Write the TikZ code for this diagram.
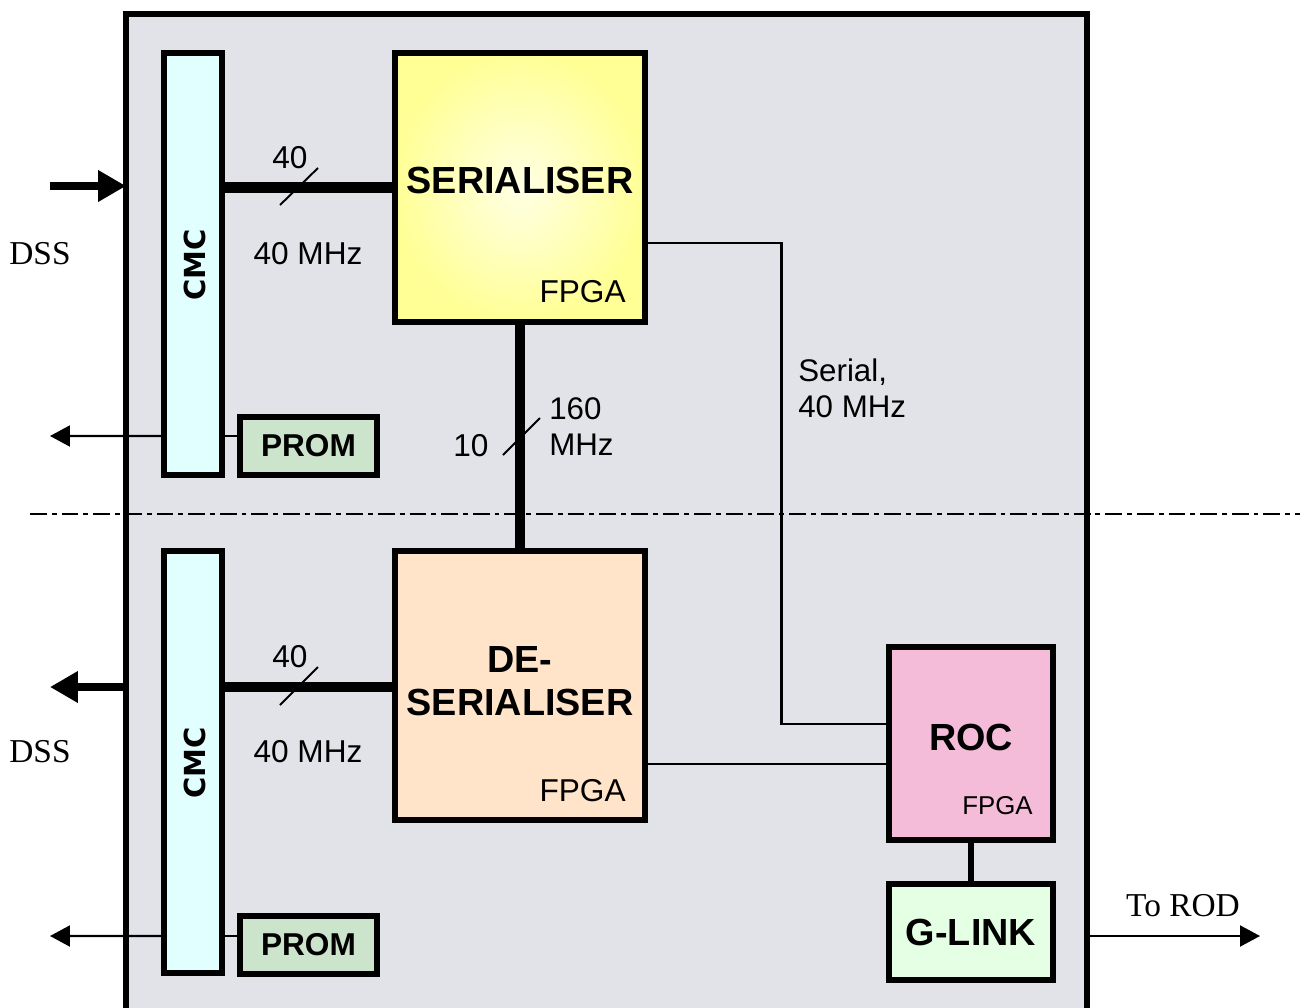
\documentclass[tikz,border=0pt]{standalone}
\usepackage{fontspec}
\setmainfont{Liberation Sans}
\newfontfamily\serifft{Liberation Serif}
\newfontfamily\heavyft{DejaVu Sans}
\usetikzlibrary{arrows.meta,calc}
\definecolor{bgfill}{RGB}{226,226,233}
\definecolor{cmcfill}{RGB}{226,255,255}
\definecolor{promfill}{RGB}{204,228,204}
\definecolor{serout}{RGB}{255,255,150}
\definecolor{serin}{RGB}{255,255,228}
\definecolor{desfill}{RGB}{255,228,202}
\definecolor{rocfill}{RGB}{244,188,216}
\definecolor{glfill}{RGB}{228,255,228}
\begin{document}
\begin{tikzpicture}[x=0.02cm,y=-0.02cm,
  box/.style={draw,line width=3.2pt,inner sep=0pt},
  bus/.style={line width=5.8pt},
  wire/.style={line width=1.6pt},
  slash/.style={line width=1.1pt},
  thinarr/.style={line width=1.2pt,-{Triangle[length=0.4cm,width=0.42cm]}},
  thickarr/.style={line width=4.3pt,-{Triangle[length=0.56cm,width=0.6cm]}},
  lbl/.style={inner sep=0pt,font=\fontsize{18pt}{21pt}\selectfont},
  bigb/.style={inner sep=0pt,align=center,font=\fontsize{21.5pt}{24.4pt}\selectfont\bfseries},
  sertxt/.style={inner sep=0pt,font=\serifft\fontsize{19pt}{22pt}\selectfont}]
\useasboundingbox (0,0) rectangle (1306,1008);
% outer board
\fill[bgfill] (126,14) rectangle (1087,1020);
\draw[line width=3.2pt] (126,1020) -- (126,14) -- (1087,14) -- (1087,1020);
% dash-dot separator
\draw[line width=1.2pt,dash pattern=on 9.6pt off 2.8pt on 2.8pt off 2.8pt] (30,514) -- (1300,514);
% boxes
\node[box,shading=radial,inner color=serin,outer color=serout,minimum width=5cm,minimum height=5.38cm] (ser) at (520,187.5) {};
\node[box,fill=desfill,minimum width=5cm,minimum height=5.38cm] (des) at (520,685.5) {};
\node[box,fill=cmcfill,minimum width=1.16cm,minimum height=8.44cm] (cmc1) at (193,264) {};
\node[box,fill=cmcfill,minimum width=1.16cm,minimum height=8.44cm] (cmc2) at (193,762) {};
\node[box,fill=promfill,minimum width=2.74cm,minimum height=1.16cm,font=\fontsize{18pt}{21pt}\selectfont\bfseries] (prom1) at (308.5,446) {PROM};
\node[box,fill=promfill,minimum width=2.74cm,minimum height=1.16cm,font=\fontsize{18pt}{21pt}\selectfont\bfseries] (prom2) at (308.5,945) {PROM};
\node[box,fill=rocfill,minimum width=3.28cm,minimum height=3.86cm] (roc) at (971,743.5) {};
\node[box,fill=glfill,minimum width=3.28cm,minimum height=1.92cm,font=\fontsize{21.5pt}{24pt}\selectfont\bfseries] (gl) at (971,932) {G-LINK};
% box texts
\node[bigb] at (520,180) {SERIALISER};
\node[lbl,anchor=east] at (626,292) {FPGA};
\node[bigb] at (520,681) {DE-\\SERIALISER};
\node[lbl,anchor=east] at (626,791) {FPGA};
\node[bigb] at (971,737) {ROC};
\node[inner sep=0pt,anchor=east,font=\fontsize{14.7pt}{17pt}\selectfont] at (1033,806) {FPGA};
\node[inner sep=0pt,rotate=90,font=\heavyft\fontsize{16.5pt}{19pt}\selectfont\bfseries] at (195,265) {CMC};
\node[inner sep=0pt,rotate=90,font=\heavyft\fontsize{16.5pt}{19pt}\selectfont\bfseries] at (195,763) {CMC};
% buses
\draw[bus] (ser.west -| cmc1.east) -- (ser.west);
\path ([yshift=-0.03cm]des.west) coordinate (dw);
\draw[bus] (dw -| cmc2.east) -- (dw);
\draw[bus] (ser.south) -- (des.north);
\draw[line width=3.4pt] (roc.south) -- (gl.north);
% bus slashes and labels
\draw[slash] (280,205) -- (318,168);
\draw[slash] (280,705) -- (318,667);
\draw[slash] (503,455) -- (540,418);
\node[lbl] at (290,158) {40};
\node[lbl] at (308,254) {40 MHz};
\node[lbl] at (290,657) {40};
\node[lbl] at (308,752) {40 MHz};
\node[lbl] at (471,446) {10};
\node[lbl,anchor=west,align=left,font=\fontsize{17.8pt}{20.5pt}\selectfont] at (549,427) {160\\MHz};
\node[lbl,anchor=west,align=left,font=\fontsize{17.8pt}{20.5pt}\selectfont] at (798,388) {Serial,\\40 MHz};
% serial and parallel wires to ROC
\path ([yshift=-1.11cm]ser.east) coordinate (s1);
\path ([yshift=0.39cm]roc.west) coordinate (r1);
\draw[wire] (s1) -- ++(134,0) |- (r1);
\path ([yshift=-1.57cm]des.east) coordinate (d1);
\draw[wire] (d1) -- (d1 -| roc.west);
% DSS arrows
\coordinate (in1) at (50,186);
\coordinate (out1) at (50,687);
\draw[thickarr] (in1) -- (in1 -| 126,0);
\draw[thickarr] (out1 -| 126,0) -- (out1);
\node[sertxt] at (40,254) {DSS};
\node[sertxt] at (40,752) {DSS};
% PROM / thin outputs
\path ([yshift=0.2cm]prom1.west) coordinate (p1);
\path ([yshift=0.18cm]prom2.west) coordinate (p2);
\coordinate (o1) at (50,436);
\coordinate (o2) at (50,936);
\draw[wire] (p1) -- (p1 -| cmc1.east);
\draw[wire] (p2) -- (p2 -| cmc2.east);
\draw[thinarr] (p1 -| cmc1.west) -- (o1);
\draw[thinarr] (p2 -| cmc2.west) -- (o2);
% To ROD
\coordinate (rod) at (1260,936);
\draw[thinarr] (rod -| 1087,0) -- (rod);
\node[sertxt] at (1183,906) {To ROD};
\end{tikzpicture}
\end{document}
